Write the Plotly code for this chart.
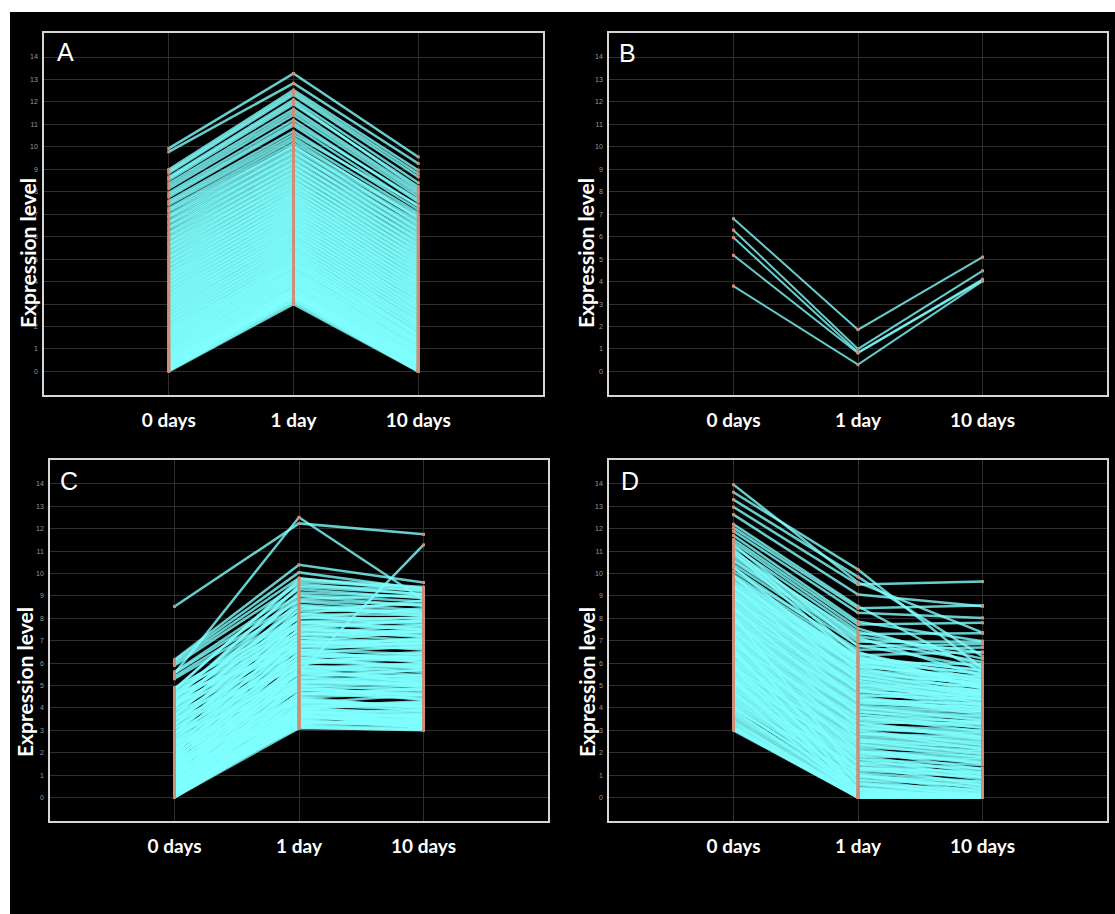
import plotly.graph_objects as go

# ---------------- data ----------------
days = ["0 days", "1 day", "10 days"]
day_pos = [0, 1, 2]
y_ticks = list(range(15))
panel_letters = ["A", "B", "C", "D"]
y_title = "Expression level"

# Panel A: up at 1 day, back down at 10 days
a_day0 = [0.00, 0.03, 0.08, 0.12, 0.18, 0.22, 0.27, 0.33, 0.39, 0.44, 0.51, 0.57, 0.62, 0.70, 0.76,
          0.83, 0.90, 0.97, 1.04, 1.12, 1.18, 1.26, 1.33, 1.41, 1.48, 1.55, 1.63, 1.71, 1.78, 1.86,
          1.95, 2.03, 2.11, 2.20, 2.27, 2.36, 2.44, 2.53, 2.61, 2.70, 2.78, 2.87, 2.95, 3.04, 3.13,
          3.21, 3.30, 3.39, 3.47, 3.56, 3.65, 3.74, 3.83, 3.92, 4.01, 4.10, 4.19, 4.28, 4.37, 4.47,
          4.56, 4.66, 4.75, 4.85, 4.94, 5.04, 5.14, 5.24, 5.34, 5.44, 5.55, 5.65, 5.76, 5.87, 5.98,
          6.09, 6.21, 6.33, 6.45, 6.58, 6.71, 6.84, 6.97, 7.11, 7.26, 7.42, 7.58, 7.76, 7.95, 8.14,
          8.37, 8.52, 8.66, 8.83, 8.99, 9.78, 9.93]
a_day1 = [3.00, 3.08, 3.36, 3.15, 3.42, 3.27, 3.50, 3.41, 3.62, 3.55, 3.70, 3.66, 3.88, 3.79, 4.02,
          3.95, 4.16, 4.08, 4.30, 4.25, 4.44, 4.39, 4.61, 4.52, 4.75, 4.70, 4.90, 4.83, 5.06, 4.98,
          5.22, 5.15, 5.38, 5.31, 5.55, 5.47, 5.71, 5.64, 5.88, 5.80, 6.05, 5.97, 6.21, 6.14, 6.38,
          6.30, 6.55, 6.47, 6.72, 6.64, 6.89, 6.81, 7.06, 6.99, 7.24, 7.16, 7.41, 7.34, 7.59, 7.52,
          7.77, 7.70, 7.95, 7.88, 8.14, 8.07, 8.33, 8.26, 8.52, 8.45, 8.72, 8.65, 8.92, 8.86, 9.13,
          9.07, 9.35, 9.29, 9.58, 9.52, 9.81, 9.76, 10.05, 10.01, 10.31, 10.42, 10.70, 10.95, 11.20, 11.42,
          11.68, 11.90, 12.10, 12.32, 12.53, 12.83, 13.27]
a_day10 = [0.00, 0.02, 0.05, 0.10, 0.14, 0.08, 0.21, 0.30, 0.26, 0.40, 0.35, 0.52, 0.47, 0.61, 0.58,
           0.75, 0.70, 0.88, 0.84, 1.01, 0.95, 1.17, 1.10, 1.30, 1.26, 1.44, 1.38, 1.60, 1.55, 1.72,
           1.66, 1.90, 1.83, 2.05, 2.01, 2.22, 2.15, 2.40, 2.33, 2.58, 2.49, 2.74, 2.66, 2.90, 2.84,
           3.07, 3.01, 3.25, 3.18, 3.42, 3.35, 3.60, 3.52, 3.78, 3.70, 3.95, 3.88, 4.12, 4.06, 4.31,
           4.24, 4.50, 4.42, 4.69, 4.61, 4.88, 4.80, 5.07, 4.99, 5.27, 5.19, 5.47, 5.40, 5.68, 5.61,
           5.90, 5.83, 6.12, 6.05, 6.35, 6.29, 6.60, 6.53, 6.86, 6.80, 7.05, 7.20, 7.33, 7.55, 7.78,
           8.00, 8.22, 8.40, 8.66, 8.96, 9.26, 9.55]
a2_day0 = [0.05, 0.15, 0.25, 0.36, 0.48, 0.60, 0.73, 0.86, 1.00, 1.15, 1.30, 1.45, 1.60, 1.75, 1.90,
           2.07, 2.24, 2.40, 2.57, 2.74, 2.91, 3.08, 3.25, 3.43, 3.60, 3.78, 3.96, 4.14, 4.32, 4.51,
           4.70, 4.89, 5.09, 5.29, 5.49, 5.70, 5.92, 6.15, 6.39, 6.64, 6.90, 7.18, 7.50, 7.85, 8.25,
           8.60, 8.90]
a2_day1 = [3.20, 3.30, 3.38, 3.48, 3.60, 3.75, 3.90, 4.05, 4.20, 4.35, 4.50, 4.65, 4.80, 4.95, 5.10,
           5.27, 5.43, 5.60, 5.76, 5.93, 6.10, 6.26, 6.43, 6.60, 6.77, 6.94, 7.11, 7.28, 7.46, 7.64,
           7.82, 8.00, 8.20, 8.39, 8.59, 8.79, 9.00, 9.22, 9.44, 9.67, 9.91, 10.16, 10.55, 11.05, 11.55,
           12.00, 12.42]
a2_day10 = [0.00, 0.12, 0.18, 0.33, 0.44, 0.55, 0.66, 0.80, 0.92, 1.06, 1.22, 1.35, 1.50, 1.64, 1.80,
            1.95, 2.12, 2.28, 2.45, 2.62, 2.80, 2.96, 3.12, 3.30, 3.48, 3.66, 3.84, 4.00, 4.18, 4.37,
            4.56, 4.75, 4.94, 5.13, 5.33, 5.54, 5.75, 5.97, 6.20, 6.44, 6.70, 6.95, 7.40, 7.65, 7.90,
            8.10, 8.80]

# Panel B: down at 1 day, partly back up at 10 days
b_day0 = [6.80, 6.29, 5.96, 5.17, 3.80]
b_day1 = [1.86, 1.00, 0.85, 0.82, 0.30]
b_day10 = [5.09, 4.48, 4.10, 4.05, 4.02]

# Panel C: up at 1 day, stays up at 10 days
c_day0 = [0.00, 0.02, 0.05, 0.08, 0.12, 0.15, 0.20, 0.24, 0.30, 0.35, 0.41, 0.47, 0.54, 0.60, 0.68,
          0.75, 0.83, 0.90, 0.98, 1.06, 1.14, 1.22, 1.30, 1.38, 1.46, 1.55, 1.63, 1.72, 1.80, 1.89,
          1.98, 2.07, 2.16, 2.25, 2.34, 2.44, 2.53, 2.62, 2.72, 2.81, 2.91, 3.00, 3.10, 3.20, 3.30,
          3.40, 3.50, 3.60, 3.70, 3.80, 3.90, 4.00, 4.10, 4.20, 4.30, 4.40, 4.50, 4.60, 4.70, 4.80,
          4.90, 5.30, 5.40, 5.55, 5.60, 5.53, 5.90, 6.00, 6.10, 6.15, 8.53, 0.10, 0.50, 0.90, 1.20,
          1.60, 2.00, 2.40, 2.80, 3.20, 3.60, 4.00, 4.40, 4.80, 0.30, 0.60, 0.20, 1.00, 0.70, 1.50,
          2.20, 3.50, 4.60, 2.90, 4.20]
c_day1 = [3.10, 3.22, 3.35, 3.48, 3.60, 3.18, 3.72, 3.85, 3.40, 4.00, 3.58, 4.15, 3.78, 4.30, 3.95,
          4.48, 4.10, 4.65, 4.28, 4.82, 4.45, 5.00, 4.62, 5.18, 4.80, 5.35, 5.00, 5.55, 5.15, 5.72,
          5.36, 5.90, 5.52, 6.08, 5.70, 6.25, 5.56, 6.42, 6.05, 6.60, 6.22, 6.78, 6.40, 6.95, 6.58,
          7.12, 6.75, 7.30, 6.92, 7.48, 7.10, 7.65, 7.28, 7.82, 7.45, 8.00, 7.62, 8.18, 7.80, 8.35,
          8.00, 8.55, 8.80, 9.05, 9.30, 12.51, 9.55, 9.80, 10.05, 10.39, 12.24, 4.70, 5.20, 5.65, 6.10,
          6.50, 6.90, 7.35, 7.75, 8.20, 8.60, 9.00, 9.40, 9.75, 3.55, 3.68, 3.95, 3.90, 4.20, 4.38,
          5.05, 5.80, 6.60, 4.80, 6.95]
c_day10 = [3.02, 3.10, 3.28, 3.15, 3.40, 3.05, 3.55, 3.33, 3.20, 3.70, 3.46, 3.88, 3.62, 4.05, 3.80,
           3.95, 4.22, 4.40, 4.10, 4.55, 4.70, 4.35, 4.90, 5.05, 4.62, 5.25, 4.80, 5.40, 5.50, 5.10,
           5.70, 5.60, 5.30, 5.85, 6.00, 5.75, 11.28, 6.20, 6.35, 6.05, 6.50, 6.65, 6.25, 6.80, 6.95,
           6.70, 7.10, 7.25, 6.85, 7.40, 7.55, 7.20, 7.70, 7.85, 7.35, 8.00, 7.90, 8.15, 7.60, 8.30,
           8.45, 8.10, 8.60, 8.75, 8.90, 8.83, 9.05, 9.20, 9.30, 9.60, 11.75, 4.45, 4.95, 5.35, 6.30,
           6.15, 7.05, 7.00, 7.50, 7.80, 8.25, 8.55, 9.10, 9.40, 3.75, 3.12, 4.20, 3.50, 4.60, 3.85,
           5.20, 5.95, 6.40, 5.00, 7.45]
c2_day0 = [0.00, 0.04, 0.09, 0.14, 0.18, 0.26, 0.33, 0.40, 0.45, 0.52, 0.58, 0.65, 0.72, 0.80, 0.88,
           0.95, 1.03, 1.10, 1.18, 1.26, 1.35, 1.43, 1.52, 1.60, 1.68, 1.77, 1.85, 1.95, 2.05, 2.14,
           2.30, 2.48, 2.66, 2.85, 3.05, 3.25, 3.45, 3.65, 3.85, 4.05, 4.25, 4.45, 4.65, 4.85, 0.35,
           0.55, 0.15, 1.25, 1.70, 2.45]
c2_day1 = [3.30, 3.65, 3.90, 4.05, 3.45, 4.35, 3.75, 4.60, 3.30, 4.90, 4.00, 5.10, 4.40, 5.35, 4.55,
           5.60, 4.95, 5.85, 5.25, 6.00, 5.40, 6.35, 5.65, 6.70, 5.95, 7.00, 6.20, 7.25, 6.45, 7.55,
           6.80, 7.85, 7.15, 8.10, 7.50, 8.40, 7.85, 8.75, 8.20, 9.15, 8.50, 9.45, 8.85, 9.65, 3.12,
           3.25, 3.40, 3.70, 3.85, 4.25]
c2_day10 = [3.45, 3.22, 3.60, 4.30, 3.70, 4.10, 3.90, 4.85, 3.55, 4.55, 4.25, 5.30, 4.00, 5.05, 4.80,
            5.80, 5.15, 5.45, 5.00, 6.20, 5.70, 6.05, 5.90, 6.90, 6.45, 6.60, 5.85, 7.40, 6.75, 7.15,
            7.05, 8.05, 6.90, 7.70, 7.95, 8.65, 7.50, 8.35, 8.80, 8.95, 8.20, 9.25, 9.05, 9.35, 3.00,
            3.35, 3.15, 3.30, 3.60, 4.05]

# Panel D: down at 1 day, mixed at 10 days
d_day0 = [3.00, 3.08, 3.20, 3.35, 3.42, 3.60, 3.75, 3.90, 4.00, 4.12, 4.25, 4.38, 4.50, 4.62, 4.75,
          4.88, 5.00, 5.12, 5.25, 5.38, 5.50, 5.62, 5.75, 5.88, 6.00, 6.12, 6.25, 6.38, 6.50, 6.62,
          6.75, 6.88, 7.00, 7.12, 7.25, 7.38, 7.50, 7.62, 7.75, 7.88, 8.00, 8.12, 8.25, 8.38, 8.50,
          8.62, 8.75, 8.88, 9.00, 9.12, 9.25, 9.38, 9.50, 9.62, 9.80, 9.95, 10.10, 10.25, 10.40, 10.55,
          10.62, 10.75, 10.85, 11.00, 11.22, 11.40, 11.52, 11.70, 11.89, 12.04, 12.20, 12.63, 12.97, 13.30, 13.63,
          13.97, 4.70, 5.30, 5.90, 6.40, 6.95, 7.45, 7.95, 8.45, 8.95, 9.45, 9.90, 10.30, 11.10, 10.95,
          11.30]
d_day1 = [0.00, 0.02, 0.05, 0.10, 0.00, 0.20, 0.35, 0.15, 0.55, 0.70, 0.90, 0.80, 1.10, 1.25, 1.40,
          1.30, 1.60, 1.75, 1.95, 1.85, 2.10, 2.25, 2.45, 2.35, 2.60, 2.80, 2.95, 2.85, 3.10, 3.30,
          3.45, 3.35, 3.60, 3.80, 3.95, 3.85, 4.10, 4.30, 4.45, 4.35, 4.60, 4.80, 4.95, 4.85, 5.10,
          5.30, 5.45, 5.35, 5.60, 5.80, 5.95, 5.85, 6.10, 6.20, 6.30, 6.45, 6.60, 6.50, 6.80, 6.95,
          7.05, 7.15, 7.30, 7.20, 7.40, 7.55, 7.73, 7.85, 8.25, 8.45, 8.54, 9.06, 9.51, 9.85, 10.18,
          9.60, 0.05, 0.40, 0.95, 1.50, 2.05, 2.60, 3.15, 3.70, 4.25, 4.75, 5.20, 5.65, 6.35, 6.05,
          6.75]
d_day10 = [0.00, 0.00, 0.00, 0.02, 0.00, 0.05, 0.00, 0.10, 0.30, 0.00, 0.45, 0.15, 0.70, 0.95, 0.55,
           1.15, 1.30, 0.90, 1.55, 1.70, 1.25, 1.95, 2.10, 1.80, 2.35, 2.50, 2.15, 2.70, 2.90, 2.60,
           3.15, 3.30, 2.95, 3.50, 3.65, 3.30, 3.85, 4.00, 3.70, 4.15, 4.30, 3.95, 4.45, 4.60, 4.20,
           4.75, 4.90, 4.50, 5.05, 4.70, 5.20, 5.35, 4.95, 5.50, 5.65, 5.25, 6.70, 4.85, 5.80, 6.95,
           6.05, 5.40, 7.33, 6.46, 6.20, 5.90, 7.80, 6.98, 8.02, 8.57, 5.60, 8.54, 9.64, 6.30, 5.75,
           7.36, 0.00, 0.10, 0.60, 1.05, 1.60, 2.20, 2.75, 3.35, 3.90, 4.40, 4.65, 5.10, 6.50, 5.95,
           6.85]
d2_day0 = [3.04, 3.15, 3.28, 3.50, 3.68, 3.82, 3.96, 4.06, 4.18, 4.32, 4.44, 4.56, 4.68, 4.82, 4.94,
           5.06, 5.18, 5.32, 5.44, 5.56, 5.70, 5.82, 5.95, 6.06, 6.18, 6.32, 6.44, 6.56, 6.70, 6.82,
           6.94, 7.06, 7.18, 7.32, 7.44, 7.56, 7.70, 7.82, 7.94, 8.06, 8.18, 8.32, 8.44, 8.56, 8.68,
           8.82, 8.94, 9.06, 9.18, 9.32, 9.44, 9.56, 9.70, 9.88, 5.20, 5.80, 6.60, 7.20, 8.10]
d2_day1 = [0.00, 0.00, 0.08, 0.12, 0.28, 0.45, 0.62, 0.40, 0.78, 0.95, 1.05, 1.20, 1.32, 1.48, 1.55,
           1.70, 1.85, 1.98, 2.05, 2.20, 2.35, 2.50, 2.55, 2.70, 2.85, 3.00, 3.05, 3.20, 3.35, 3.50,
           3.55, 3.70, 3.85, 4.00, 4.05, 4.20, 4.35, 4.50, 4.55, 4.70, 4.85, 5.00, 5.05, 5.20, 5.35,
           5.50, 5.55, 5.70, 5.85, 6.00, 6.05, 6.15, 6.22, 6.25, 0.10, 0.20, 0.30, 0.60, 1.00]
d2_day10 = [0.00, 0.00, 0.00, 0.00, 0.08, 0.20, 0.35, 0.00, 0.55, 0.70, 0.40, 0.90, 1.05, 0.80, 1.25,
            1.45, 1.10, 1.75, 1.85, 1.50, 2.05, 2.25, 1.95, 2.45, 2.60, 2.35, 2.85, 3.00, 2.70, 3.25,
            3.40, 3.10, 3.60, 3.80, 3.45, 4.05, 4.20, 3.85, 4.40, 4.55, 4.10, 4.65, 4.80, 4.35, 4.95,
            5.10, 4.60, 5.25, 5.40, 4.90, 5.55, 5.15, 5.70, 5.00, 0.00, 0.00, 0.02, 0.10, 0.25]

panel_data = [
    (a_day0 + a2_day0, a_day1 + a2_day1, a_day10 + a2_day10),
    (b_day0, b_day1, b_day10),
    (c_day0 + c2_day0, c_day1 + c2_day1, c_day10 + c2_day10),
    (d_day0 + d2_day0, d_day1 + d2_day1, d_day10 + d2_day10),
]

# ---------------- layout geometry (pixels) ----------------
W, H = 1115, 914
# plot boxes: left, top, right, bottom
boxes = [(44, 33, 543, 395), (609, 33, 1107, 395), (50, 460, 548, 821), (609, 460, 1107, 821)]
letter_pos = [(65, 52), (627, 53), (69, 481), (630, 481)]
title_pos = [(27, 253), (585, 253), (24, 682), (586, 682)]
line_widths = [2.5, 2.0, 2.5, 2.5]

LINE_COL = "rgba(127,255,255,0.8)"
MARK_COL = "#cf8e76"
GRID_COL = "#2f2f2f"
FRAME_COL = "#d6d6d6"

fig = go.Figure()
layout = dict(
    width=W, height=H,
    margin=dict(l=0, r=0, t=0, b=0),
    paper_bgcolor="black", plot_bgcolor="black",
    showlegend=False,
    annotations=[], shapes=[],
)

for i, ((d0, d1, d10), (l, t, r, b)) in enumerate(zip(panel_data, boxes)):
    sfx = "" if i == 0 else str(i + 1)
    xa, ya = "x" + sfx, "y" + sfx
    for v0, v1, v2 in zip(d0, d1, d10):
        fig.add_trace(go.Scatter(x=day_pos, y=[v0, v1, v2], mode="lines",
                                 line=dict(color=LINE_COL, width=line_widths[i]),
                                 xaxis=xa, yaxis=ya, hoverinfo="skip"))
    n = len(d0)
    fig.add_trace(go.Scatter(x=[0] * n + [1] * n + [2] * n, y=list(d0) + list(d1) + list(d10),
                             mode="markers",
                             marker=dict(symbol="square", size=3, color=MARK_COL, line=dict(width=0)),
                             xaxis=xa, yaxis=ya, hoverinfo="skip"))
    layout["xaxis" + sfx] = dict(
        domain=[l / W, r / W], range=[-1, 3], anchor=ya,
        tickmode="array", tickvals=day_pos, ticktext=days,
        tickfont=dict(family="Lato", size=19, color="white", weight="bold"),
        ticks="", ticklabelstandoff=7,
        showgrid=True, gridcolor=GRID_COL, gridwidth=1, zeroline=False,
        showline=True, mirror=True, linecolor=FRAME_COL, linewidth=1.5,
        fixedrange=True,
    )
    layout["yaxis" + sfx] = dict(
        domain=[1 - b / H, 1 - t / H], range=[-1.05, 15.07], anchor=xa,
        tickmode="array", tickvals=y_ticks,
        tickfont=dict(family="Liberation Sans", size=7, color="#9a9a9a"),
        ticks="", ticklabelstandoff=3,
        showgrid=True, gridcolor=GRID_COL, gridwidth=1, zeroline=False,
        showline=True, mirror=True, linecolor=FRAME_COL, linewidth=1.5,
        fixedrange=True,
    )
    lx, ly = letter_pos[i]
    layout["annotations"].append(dict(
        text=panel_letters[i], xref="paper", yref="paper", x=lx / W, y=1 - ly / H,
        xanchor="center", yanchor="middle", showarrow=False,
        font=dict(family="Liberation Sans", size=25, color="white")))
    tx, ty = title_pos[i]
    layout["annotations"].append(dict(
        text=y_title, xref="paper", yref="paper", x=tx / W, y=1 - ty / H,
        xanchor="center", yanchor="middle", showarrow=False, textangle=-90,
        font=dict(family="Lato", size=21, color="white", weight="bold")))

# white page strips at the top and left of the black figure panel
layout["shapes"] = [
    dict(type="rect", xref="paper", yref="paper", x0=0, x1=1, y0=1 - 12 / H, y1=1,
         fillcolor="white", line=dict(width=0), layer="below"),
    dict(type="rect", xref="paper", yref="paper", x0=0, x1=10 / W, y0=0, y1=1,
         fillcolor="white", line=dict(width=0), layer="below"),
]

fig.update_layout(**layout)
fig.write_html("out.html", config={"displayModeBar": False},
               post_script="document.body.style.margin='0px';")
